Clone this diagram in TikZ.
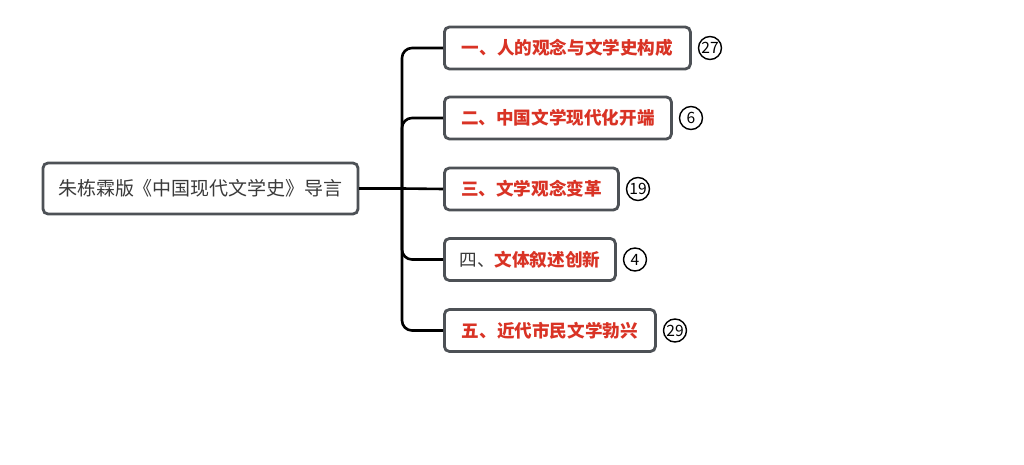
\documentclass[tikz,border=0pt]{standalone}
\usepackage{fontspec}
\usepackage{tikz}
\usetikzlibrary{positioning}
\newfontfamily\cjk{Noto Sans CJK SC}
\definecolor{boxgray}{HTML}{4D5156}
\definecolor{textgray}{HTML}{3A3A3A}
\definecolor{topicred}{HTML}{D93325}

\begin{document}
\begin{tikzpicture}[x=0.5pt, y=-0.5pt]
        \tikzstyle{root} = [rectangle, rounded corners=2.5pt, minimum width=157.5pt, minimum height=25.5pt, text centered, draw=boxgray, line width=1.4pt, fill=white, font=\cjk\fontsize{9.5}{11}\selectfont, text=textgray]
        \tikzstyle{topic} = [rectangle, rounded corners=2.5pt, minimum height=21pt, anchor=west, text centered, draw=boxgray, line width=1.4pt, fill=white, font=\cjk\bfseries\fontsize{8.8}{10}\selectfont, text=topicred]
        \tikzstyle{count} = [circle, draw=black, line width=0.7pt, minimum size=11.5pt, inner sep=0pt, font=\cjk\fontsize{7.8}{8}\selectfont]
        \tikzstyle{branch} = [line width=1.3pt, black, rounded corners=5pt]

        \useasboundingbox (0,0) rectangle (1024,465);

        \node (root) [root] at (200.5,188.5) {朱栋霖版《中国现代文学史》导言};
        \coordinate (hub) at (402,188.5);

        \node (t1) [topic, minimum width=123pt] at (443,48) {一、人的观念与文学史构成};
        \node (t2) [topic, minimum width=113.5pt] at (443,118) {二、中国文学现代化开端};
        \node (t3) [topic, minimum width=87pt] at (443,189) {三、文学观念变革};
        \node (t4) [topic, minimum width=85.5pt] at (443,259.5) {\textcolor{textgray}{\mdseries 四、}文体叙述创新};
        \node (t5) [topic, minimum width=105.5pt] at (443,330.5) {五、近代市民文学勃兴};

        \node (n1) [count, right=3pt of t1] {27};
        \node (n2) [count, right=3pt of t2] {6};
        \node (n3) [count, right=3pt of t3] {19};
        \node (n4) [count, right=3pt of t4] {4};
        \node (n5) [count, right=3pt of t5] {29};

        \draw [branch] (root.east) -- (hub);
        \draw [branch] (hub) |- (t1.west);
        \draw [branch] (hub) |- (t2.west);
        \draw [branch] (hub) -- (t3.west);
        \draw [branch] (hub) |- (t4.west);
        \draw [branch] (hub) |- (t5.west);
    \end{tikzpicture}
\end{document}
